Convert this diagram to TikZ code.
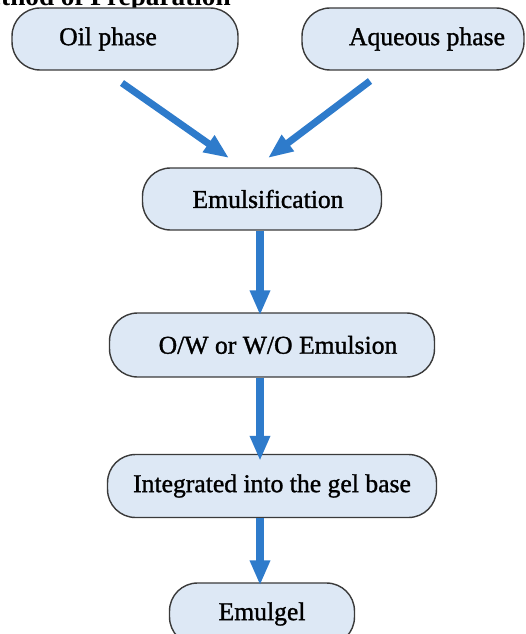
\documentclass[tikz,border=0pt]{standalone}
\usepackage{fontspec}
\setmainfont{Liberation Serif}
\newfontfamily\stagefont[FakeBold=1.2]{Liberation Serif}
\usetikzlibrary{arrows.meta}
\definecolor{boxfill}{HTML}{DDE8F5}
\definecolor{boxline}{HTML}{3A3A3A}
\definecolor{flowblue}{HTML}{2E7BCB}
\begin{document}
\begin{tikzpicture}[
        x=0.02cm, y=-0.02cm,
        stage/.style={draw=boxline,line width=0.8pt,fill=boxfill,rounded corners=0.56cm,
            minimum height=1.24cm,inner sep=0pt,font=\stagefont\fontsize{14.6}{17}\selectfont},
        title/.style={font=\bfseries\fontsize{15.5}{18}\selectfont,inner sep=0pt},
        flow/.style={flowblue,line width=4pt,-{Triangle[length=0.5cm,width=0.38cm]}}
    ]
        \useasboundingbox (0,0) rectangle (526,634);
        \clip (0,0) rectangle (526,634);

        % Define the nodes
        \node[title,anchor=base east] (title) at (231,6) {Method of Preparation};
        \node[stage,minimum width=4.52cm] (oil) at (125,39) {Oil phase\kern0.68cm};
        \node[stage,minimum width=4.44cm] (aqueous) at (413,39) {\kern0.56cm Aqueous phase};
        \node[stage,minimum width=4.78cm] (emulsification) at (262,199) {\kern0.24cm Emulsification};
        \node[stage,minimum width=6.5cm,minimum height=1.28cm] (emulsion) at (272,345) {\kern0.24cm O/W or W/O Emulsion};
        \node[stage,minimum width=6.58cm,minimum height=1.26cm] (gelbase) at (272,486) {Integrated into the gel base};
        \node[stage,minimum width=3.7cm] (emulgel) at (262,614) {Emulgel};

        % Free ends of the slanted arrows
        \coordinate (oilout) at (122,83);
        \coordinate (oilin) at (229,158);
        \coordinate (aqout) at (370,81);
        \coordinate (aqin) at (268,158);

        % Draw the arrows
        \draw[flow] (oilout) -- (oilin);
        \draw[flow] (aqout) -- (aqin);
        \draw[flow] (emulsification.south -| 260,0) -- ([yshift=-0.06cm]emulsion.north -| 260,0);
        \draw[flow] (emulsion.south -| 260,0) -- ([yshift=-0.14cm]gelbase.north -| 260,0);
        \draw[flow] (gelbase.south -| 260,0) -- ([yshift=-0.06cm]emulgel.north -| 260,0);
    \end{tikzpicture}
\end{document}
